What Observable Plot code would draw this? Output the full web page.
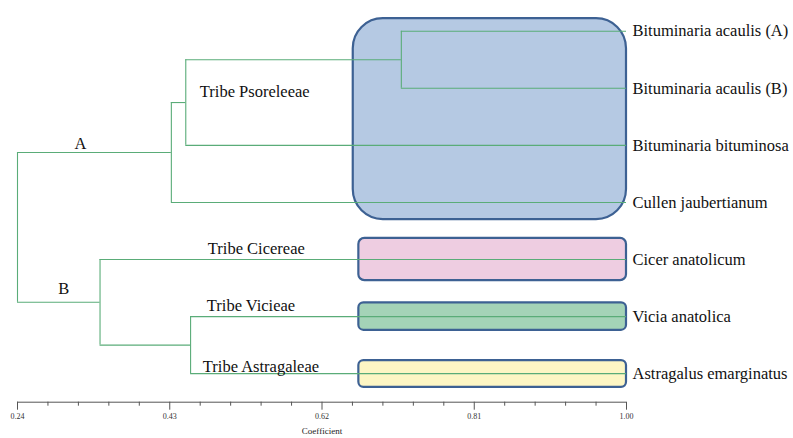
<!DOCTYPE html>
<html>
<head>
<meta charset="utf-8">
<script src="https://cdn.jsdelivr.net/npm/d3@7"></script>
<script src="https://cdn.jsdelivr.net/npm/@observablehq/plot@0.6"></script>
<style>
  html, body { margin: 0; padding: 0; background: #fff; }
  #chart svg { display: block; }
</style>
</head>
<body>
<div id="chart"></div>
<script>
// ---- data ----
const leaves = [
  "Bituminaria acaulis (A)",
  "Bituminaria acaulis (B)",
  "Bituminaria bituminosa",
  "Cullen jaubertianum",
  "Cicer anatolicum",
  "Vicia anatolica",
  "Astragalus emarginatus"
];
const leafCoef = 1.00;
const nodeNames  = ["n1", "n2", "A", "n4", "B", "root"];
const nodeLeft   = ["Bituminaria acaulis (A)", "n1", "n2", "Vicia anatolica", "Cicer anatolicum", "A"];
const nodeRight  = ["Bituminaria acaulis (B)", "Bituminaria bituminosa", "Cullen jaubertianum", "Astragalus emarginatus", "n4", "B"];
const nodeCoef   = [0.719, 0.450, 0.432, 0.456, 0.343, 0.240];
const cladeNames = ["A", "B"];
const tribeNames  = ["Tribe Psoreleeae", "Tribe Cicereae", "Tribe Vicieae", "Tribe Astragaleae"];
const tribeAnchor = ["n2", "Cicer anatolicum", "Vicia anatolica", "Astragalus emarginatus"];
const tribeFirst  = [0, 4, 5, 6];
const tribeLast   = [3, 4, 5, 6];
const tickValues  = [0.24, 0.43, 0.62, 0.81, 1.00];
const axisTitle   = "Coefficient";

// ---- styles ----
const lineColor = "#5aac78";
const serif = "Liberation Serif, Times New Roman, serif";
const boxStyle = [
  {fill: "#b5c9e3", left: 0.659, padTop: 0.22, padBottom: 0.30, r: 30},
  {fill: "#eecde1", left: 0.666, padTop: 0.37, padBottom: 0.37, r: 6},
  {fill: "#a4d3b7", left: 0.666, padTop: 0.24, padBottom: 0.24, r: 5},
  {fill: "#fdf6c4", left: 0.666, padTop: 0.23, padBottom: 0.24, r: 5}
];
const tribeDx = [-2, 6, 5, 1];
const tribeDy = [-6, -6, -6, -1.5];
const cladeDx = [-14, 5];
const cladeDy = [-3, -8];

// ---- layout from data ----
const pos = new Map();
leaves.forEach((name, i) => pos.set(name, {x: leafCoef, y: i}));
nodeNames.forEach((name, i) => {
  const a = pos.get(nodeLeft[i]), b = pos.get(nodeRight[i]);
  pos.set(name, {x: nodeCoef[i], y: (a.y + b.y) / 2});
});
const verticals = nodeNames.map((name, i) => ({
  x: nodeCoef[i], y1: pos.get(nodeLeft[i]).y, y2: pos.get(nodeRight[i]).y
}));
const horizontals = [];
nodeNames.forEach((name, i) => {
  for (const c of [nodeLeft[i], nodeRight[i]]) {
    const p = pos.get(c);
    horizontals.push({x1: nodeCoef[i], x2: p.x, y: p.y});
  }
});
const boxes = tribeNames.map((t, i) => ({
  x1: boxStyle[i].left, x2: leafCoef,
  y1: tribeFirst[i] - boxStyle[i].padTop,
  y2: tribeLast[i] + boxStyle[i].padBottom,
  fill: boxStyle[i].fill, r: boxStyle[i].r
}));
const rootName = nodeNames[nodeNames.length - 1];
const rootX = pos.get(rootName).x;
const yBottom = leaves.length - 0.5;
const minorTicks = [];
for (let i = 0; i < tickValues.length - 1; i++) {
  const step = (tickValues[i + 1] - tickValues[i]) / 5;
  for (let k = 1; k < 5; k++) minorTicks.push(tickValues[i] + k * step);
}
const tribeLabelX = 0.47;

const marks = [];
boxes.forEach(b => {
  marks.push(Plot.rect([b], {
    x1: "x1", x2: "x2", y1: "y1", y2: "y2",
    fill: b.fill, stroke: "#3d6193", strokeWidth: 2.2, rx: b.r, ry: b.r
  }));
});
marks.push(
  Plot.ruleX(verticals, {x: "x", y1: "y1", y2: "y2", stroke: lineColor, strokeWidth: 1.1}),
  Plot.ruleY(horizontals, {y: "y", x1: "x1", x2: "x2", stroke: lineColor, strokeWidth: 1.1}),
  Plot.text(leaves, {
    x: () => leafCoef, y: (d, i) => i, text: d => d,
    textAnchor: "start", lineAnchor: "middle", dx: 6,
    fontFamily: serif, fontSize: 16.5, fill: "#111"
  })
);
cladeNames.forEach((c, i) => {
  const p = pos.get(c);
  marks.push(Plot.text([c], {
    x: () => (rootX + p.x) / 2, y: () => p.y, text: d => d,
    textAnchor: "middle", lineAnchor: "bottom", dx: cladeDx[i], dy: cladeDy[i],
    fontFamily: serif, fontSize: 16.5, fill: "#111"
  }));
});
tribeNames.forEach((t, i) => {
  const p = pos.get(tribeAnchor[i]);
  marks.push(Plot.text([t], {
    x: () => tribeLabelX, y: () => p.y, text: d => d,
    textAnchor: "start", lineAnchor: "bottom", dx: tribeDx[i], dy: tribeDy[i],
    fontFamily: serif, fontSize: 16.5, fill: "#111"
  }));
});
marks.push(
  Plot.ruleY([yBottom], {x1: tickValues[0], x2: tickValues[tickValues.length - 1], stroke: "#555"}),
  Plot.axisX(minorTicks, {tickSize: 4, tickFormat: () => "", label: null, stroke: "#555"}),
  Plot.axisX(tickValues, {
    tickSize: 8, tickPadding: 3, tickFormat: d => d.toFixed(2), label: null,
    stroke: "#555", fontSize: 8, fontFamily: serif, fill: "#333"
  }),
  Plot.text([axisTitle], {
    frameAnchor: "bottom", dy: 29, text: d => d, lineAnchor: "middle",
    fontFamily: serif, fontSize: 9, fill: "#222"
  })
);

const chart = Plot.plot({
  width: 793,
  height: 438,
  marginLeft: 17,
  marginRight: 167,
  marginTop: 30.7,
  marginBottom: 36.3,
  x: {domain: [tickValues[0], tickValues[tickValues.length - 1]]},
  y: {domain: [0, yBottom], reverse: true, axis: null},
  style: {background: "#fff", overflow: "visible"},
  marks
});
document.getElementById("chart").appendChild(chart);
</script>
</body>
</html>
